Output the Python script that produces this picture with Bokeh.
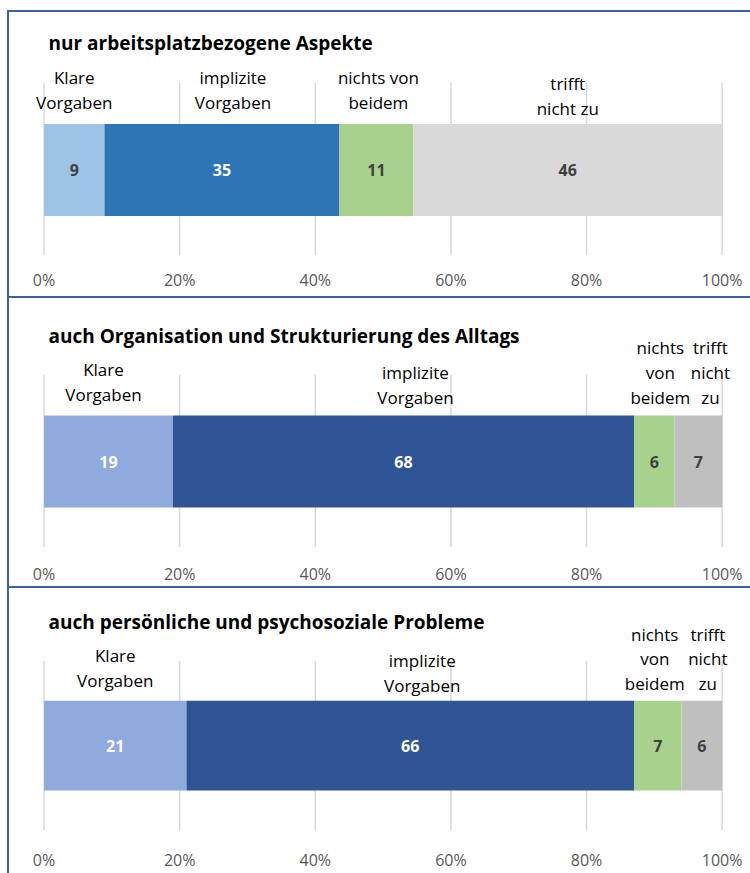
from bokeh.plotting import figure
from bokeh.models import Range1d, FixedTicker, PrintfTickFormatter, Label, ColumnDataSource
from bokeh.layouts import column
from bokeh.embed import file_html
from bokeh.resources import INLINE
from bokeh.core.properties import value

# ---------------- data ----------------
categories = ["Klare Vorgaben", "implizite Vorgaben", "nichts von beidem", "trifft nicht zu"]
titles = [
    "nur arbeitsplatzbezogene Aspekte",
    "auch Organisation und Strukturierung des Alltags",
    "auch persönliche und psychosoziale Probleme",
]
values_p1 = [9, 35, 11, 46]
values_p2 = [19, 68, 6, 7]
values_p3 = [21, 66, 7, 6]
label_lines_p1 = [["Klare", "Vorgaben"], ["implizite", "Vorgaben"], ["nichts von", "beidem"], ["trifft", "nicht zu"]]
label_lines_p2 = [["Klare", "Vorgaben"], ["implizite", "Vorgaben"], ["nichts", "von", "beidem"], ["trifft", "nicht", "zu"]]
label_lines_p3 = [["Klare", "Vorgaben"], ["implizite", "Vorgaben"], ["nichts", "von", "beidem"], ["trifft", "nicht", "zu"]]
tick_values = [0, 20, 40, 60, 80, 100]

# ---------------- styles ----------------
colors_p1 = ["#9DC3E6", "#2E75B6", "#A9D18E", "#D9D9D9"]
colors_p23 = ["#8FAADC", "#2F5597", "#A9D18E", "#BFBFBF"]
numcol_p1 = ["#404040", "#FFFFFF", "#404040", "#404040"]
numcol_p23 = ["#FFFFFF", "#FFFFFF", "#404040", "#404040"]
BORDER = "#3A64A0"
FONT = "Open Sans"

panels = [
    dict(title=titles[0], vals=values_p1, lines=label_lines_p1, colors=colors_p1, numcol=numcol_p1,
         height=288, mbb=43, yr=(-85.5, 159.5), title_y=127.5, standoff=7,
         last_y=[67.5, 67.5, 67.5, 61.5], dx=[0, 11, 2, 0],
         shadow=f"inset 2px 2px 0 0 {BORDER}, inset 0 -2px 0 0 {BORDER}"),
    dict(title=titles[1], vals=values_p2, lines=label_lines_p2, colors=colors_p23, numcol=numcol_p23,
         height=290, mbb=41, yr=(-86, 163), title_y=126, standoff=9,
         last_y=[67, 64, 64, 64], dx=[-5, 12, 6, 12],
         shadow=f"inset 2px 0 0 0 {BORDER}, inset 0 -2px 0 0 {BORDER}"),
    dict(title=titles[2], vals=values_p3, lines=label_lines_p3, colors=colors_p23, numcol=numcol_p23,
         height=285, mbb=37, yr=(-87, 161), title_y=127, standoff=12,
         last_y=[67, 62, 64, 64], dx=[0, 12, -3, 6],
         shadow=f"inset 2px 0 0 0 {BORDER}"),
]

BAR_H = 92
GRID_TOP = 87
LINE_SP = 25

figs = []
for pd_ in panels:
    vals = pd_["vals"]
    total = float(sum(vals))
    pct = [v / total * 100 for v in vals]
    lefts, rights = [], []
    acc = 0.0
    for v in pct:
        lefts.append(acc)
        acc += v
        rights.append(acc)
    centers = [(l + r) / 2 for l, r in zip(lefts, rights)]

    p = figure(width=743, height=pd_["height"], output_backend="svg", toolbar_location=None,
               title=None, x_range=Range1d(-2, 103), y_range=Range1d(*pd_["yr"]),
               y_axis_location=None, min_border_left=23, min_border_right=8,
               min_border_top=0, min_border_bottom=pd_["mbb"])
    p.border_fill_color = None
    p.background_fill_color = None
    p.outline_line_color = None
    p.xgrid.visible = False
    p.ygrid.visible = False
    p.styles = {"box-shadow": pd_["shadow"]}

    ymin = pd_["yr"][0]
    p.segment(x0=tick_values, y0=[ymin] * len(tick_values), x1=tick_values,
              y1=[GRID_TOP] * len(tick_values), line_color="#D9D9D9", line_width=1.5)

    src = ColumnDataSource(dict(left=lefts, right=rights, y=[0] * 4, color=pd_["colors"],
                                cx=centers, txt=[str(v) for v in vals], tcol=pd_["numcol"]))
    p.hbar(y="y", left="left", right="right", height=BAR_H, fill_color="color",
           line_color=None, source=src)
    p.text(x="cx", y="y", text="txt", text_color="tcol", source=src,
           text_font=value(FONT), text_font_style="bold", text_font_size="16px",
           text_align="center", text_baseline="middle")

    lx, ly, lt, ldx = [], [], [], []
    for i, lines in enumerate(pd_["lines"]):
        n = len(lines)
        for j, t in enumerate(lines):
            lx.append(centers[i])
            ly.append(pd_["last_y"][i] + (n - 1 - j) * LINE_SP)
            lt.append(t)
            ldx.append(pd_["dx"][i])
    p.text(x=lx, y=ly, text=lt, x_offset=ldx, text_color="#000000",
           text_font=value(FONT), text_font_size="17px",
           text_align="center", text_baseline="middle")

    p.add_layout(Label(x=0, y=pd_["title_y"], x_offset=4.5, text=pd_["title"], text_font=FONT,
                       text_font_style="bold", text_font_size="19px", text_color="#000000",
                       text_baseline="middle"))

    ax = p.xaxis[0]
    ax.ticker = FixedTicker(ticks=tick_values)
    ax.formatter = PrintfTickFormatter(format="%d%%")
    ax.axis_line_color = None
    ax.major_tick_line_color = None
    ax.minor_tick_line_color = None
    ax.major_label_standoff = pd_["standoff"]
    ax.major_label_text_font = FONT
    ax.major_label_text_font_size = "16px"
    ax.major_label_text_color = "#595959"
    figs.append(p)

layout = column(*figs, spacing=0, margin=(10, 0, 0, 7))
open("out.html", "w").write(file_html(layout, INLINE))
